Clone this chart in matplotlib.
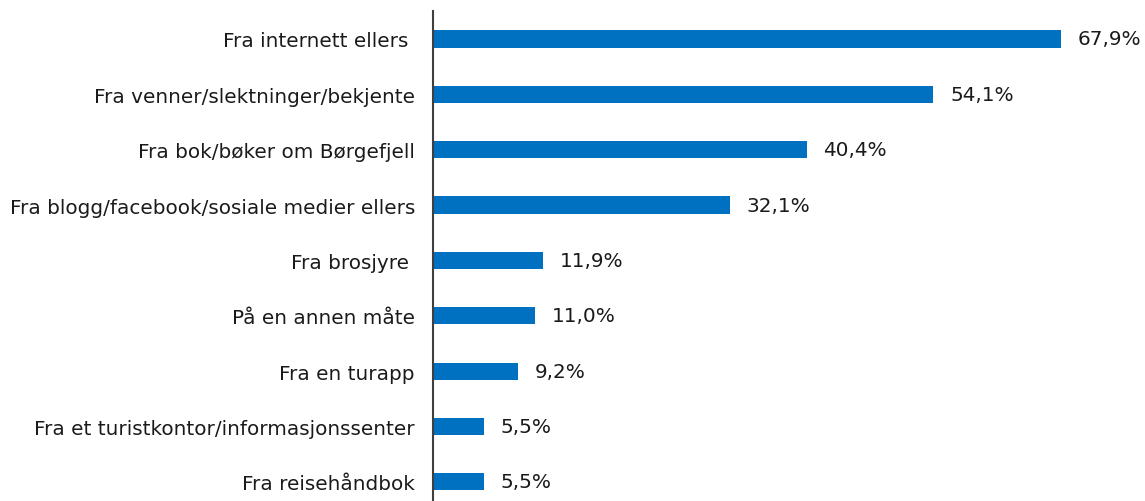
import matplotlib
matplotlib.use("Agg")
from matplotlib import pyplot as plt

categories = [
    "Fra internett ellers ",
    "Fra venner/slektninger/bekjente",
    "Fra bok/bøker om Børgefjell",
    "Fra blogg/facebook/sosiale medier ellers",
    "Fra brosjyre ",
    "På en annen måte",
    "Fra en turapp",
    "Fra et turistkontor/informasjonssenter",
    "Fra reisehåndbok",
]
values = [67.9, 54.1, 40.4, 32.1, 11.9, 11.0, 9.2, 5.5, 5.5]
value_labels = ["67,9%", "54,1%", "40,4%", "32,1%", "11,9%", "11,0%", "9,2%", "5,5%", "5,5%"]

plt.rcParams["font.family"] = ["DejaVu Sans"]

fig = plt.figure(figsize=(11.45, 5.02), dpi=100)
ax = fig.add_axes([433 / 1145, -0.017, (75 * 9.25) / 1145, 0.9925])

y = list(range(len(categories)))
ax.barh(y, values, height=0.31, color="#0070C0")
for yi, v, lab in zip(y, values, value_labels):
    ax.text(v + 1.8, yi, lab, va="center", ha="left", fontsize=14.4, color="#1a1a1a")

ax.set_xlim(0, 75)
ax.set_ylim(len(categories) - 0.5, -0.5)
ax.set_yticks(y)
ax.set_yticklabels(categories, fontsize=14.4, color="#1a1a1a")
ax.tick_params(axis="y", length=0, pad=13)
ax.set_xticks([])
for s in ["top", "right", "bottom"]:
    ax.spines[s].set_visible(False)
ax.spines["left"].set_color("#404040")
ax.spines["left"].set_linewidth(1.5)

fig.savefig("out.png", dpi=100)
